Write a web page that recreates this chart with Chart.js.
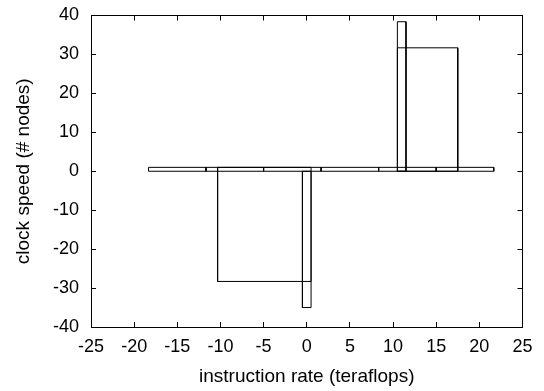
<!DOCTYPE html>
<html>
<head>
<meta charset="utf-8">
<script src="https://cdn.jsdelivr.net/npm/chart.js@4"></script>
<style>
  html, body { margin: 0; padding: 0; background: #fff; }
  #wrap { width: 544px; height: 391px; }
</style>
</head>
<body>
<div id="wrap"><canvas id="chart"></canvas></div>
<script>
// thin base bins along zero
const baseLeft = [-18.33, -11.67, -5, 1.67, 8.33, 15];
const baseRight = [-11.67, -5, 1.67, 8.33, 15, 21.67];
const baseValue = [1, 1, 1, 1, 1, 1];

// tall boxes
const peakLeft = [-10.33, -0.5, 10.5, 10.5];
const peakRight = [0.5, 0.5, 11.5, 17.5];
const peakFrom = [1, 0, 0, 0];
const peakValue = [-28.3, -35, 38.4, 31.7];

const xTicks = [-25, 25, 5];   // min, max, step
const yTicks = [-40, 40, 10];

function box(l, r, b, v) {
    return {
        data: [{x: l, y: b}, {x: l, y: v}, {x: r, y: v}, {x: r, y: b}, {x: l, y: b}],
        showLine: true,
        borderColor: "#000",
        borderWidth: 1,
        pointRadius: 0,
        fill: false,
        tension: 0
    }
}

let datasets = []
baseLeft.forEach((l, i) => datasets.push(box(l, baseRight[i], 0, baseValue[i])))
peakLeft.forEach((l, i) => datasets.push(box(l, peakRight[i], peakFrom[i], peakValue[i])))

const font = {family: "'Liberation Sans', Arial, sans-serif", size: 18};
const titleFont = {family: "'Liberation Sans', Arial, sans-serif", size: 19};
Chart.defaults.color = "#000";

function noPad(s) {
    s.paddingTop = 0; s.paddingBottom = 0; s.paddingLeft = 0; s.paddingRight = 0;
}

const ctx = document.getElementById("chart");
new Chart(ctx, {
    type: 'scatter',
    data: { datasets: datasets },
    options: {
        responsive: true,
        maintainAspectRatio: false,
        animation: false,
        events: [],
        layout: { padding: { top: 15.5, right: 21.5, left: 0, bottom: 0 } },
        plugins: { legend: { display: false }, tooltip: { enabled: false } },
        scales: {
            x: {
                type: 'linear', position: 'bottom',
                min: xTicks[0], max: xTicks[1],
                ticks: { stepSize: xTicks[2], font: font, padding: 14, maxRotation: 0, autoSkip: false },
                grid: { drawOnChartArea: false, tickLength: -5, color: "#000" },
                border: { display: true, color: "#000", width: 1 },
                title: { display: true, text: "instruction rate (teraflops)", font: titleFont, padding: { top: 0, bottom: 3 } },
                afterFit: (s) => { s.height = 64; noPad(s) }
            },
            y: {
                type: 'linear', position: 'left',
                min: yTicks[0], max: yTicks[1],
                ticks: { stepSize: yTicks[2], font: font, padding: 17 },
                grid: { drawOnChartArea: false, tickLength: -5, color: "#000" },
                border: { display: true, color: "#000", width: 1 },
                title: { display: true, text: "clock speed (# nodes)", font: titleFont, padding: { top: 12, bottom: 0 } },
                afterFit: (s) => { s.width = 91; noPad(s) }
            },
            x2: {
                type: 'linear', position: 'top',
                min: xTicks[0], max: xTicks[1],
                ticks: { stepSize: xTicks[2], display: false },
                grid: { drawOnChartArea: false, tickLength: -5, color: "#000" },
                border: { display: true, color: "#000", width: 1 },
                afterFit: (s) => { s.height = 0; noPad(s) }
            },
            y2: {
                type: 'linear', position: 'right',
                min: yTicks[0], max: yTicks[1],
                ticks: { stepSize: yTicks[2], display: false },
                grid: { drawOnChartArea: false, tickLength: -5, color: "#000" },
                border: { display: true, color: "#000", width: 1 },
                afterFit: (s) => { s.width = 0; noPad(s) }
            }
        }
    }
});
</script>
</body>
</html>
